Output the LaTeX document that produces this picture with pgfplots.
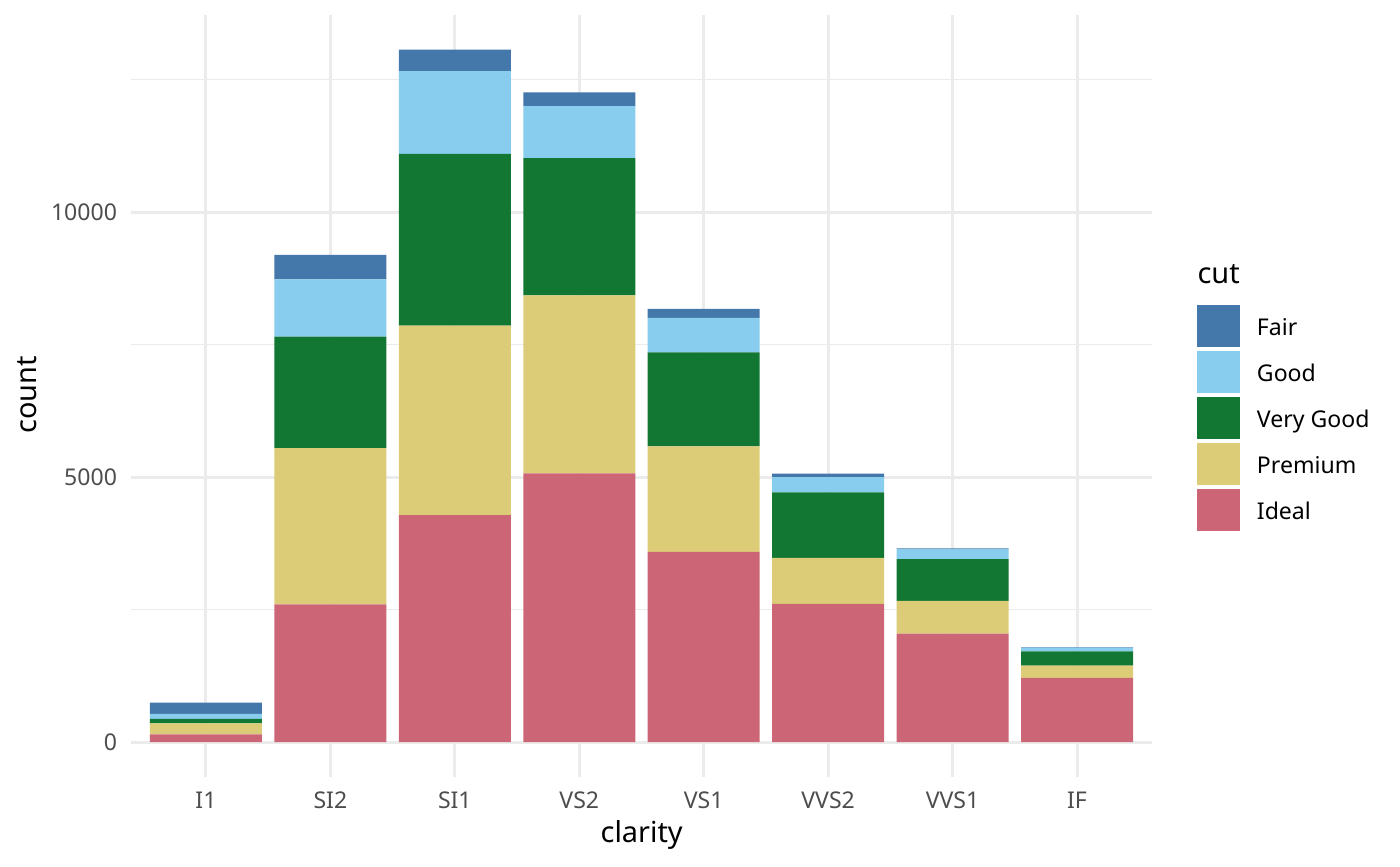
\documentclass[border=0pt]{standalone}
\usepackage{pgfplots}
\pgfplotsset{compat=1.18}
\usepackage{fontspec}
\setmainfont{Noto Sans}
\definecolor{cFair}{HTML}{4477AA}
\definecolor{cGood}{HTML}{88CCEE}
\definecolor{cVG}{HTML}{117733}
\definecolor{cPrem}{HTML}{DDCC77}
\definecolor{cIdeal}{HTML}{CC6677}
\definecolor{grid92}{HTML}{EBEBEB}
\definecolor{grey30}{HTML}{4D4D4D}
\begin{document}
\begin{tikzpicture}
\useasboundingbox (0,0) rectangle (504pt,311.76pt);
\begin{axis}[
  at={(47.27pt,32.18pt)}, anchor=south west,
  scale only axis, width=367.34pt, height=274.18pt,
  xmin=0.4, xmax=8.6, ymin=-653.25, ymax=13718.25,
  ybar stacked, bar width=0.9,
  axis line style={draw=none},
  major tick length=0pt, minor tick length=0pt,
  xtick={1,2,3,4,5,6,7,8},
  xticklabels={I1,SI2,SI1,VS2,VS1,VVS2,VVS1,IF},
  ytick={0,5000,10000},
  minor ytick={2500,7500,12500},
  grid=both,
  major grid style={draw=grid92, line width=1.08pt},
  minor grid style={draw=grid92, line width=0.54pt},
  scaled y ticks=false,
  /pgf/number format/.cd, 1000 sep={}, assume math mode=true,
  /pgfplots/.cd,
  tick label style={font=\fontsize{8.3pt}{10pt}\selectfont, color=grey30, inner sep=0pt},
  xticklabel style={anchor=north, yshift=-5.2pt},
  yticklabel style={anchor=east, xshift=-4.97pt},
  reverse legend,
  legend cell align=left,
  legend style={at={(1.0444,0.6192)}, anchor=north west, draw=none, fill=none,
    inner sep=0pt, outer sep=0pt, row sep=1.44pt, column sep=6.12pt,
    font=\fontsize{8.3pt}{10pt}\selectfont,
    nodes={inner sep=0pt, outer sep=0pt}},
  legend image code/.code={\fill[#1, draw=none] (0pt,-6.4pt) rectangle (15.48pt,8.72pt);},
]
\addplot[fill=cIdeal, draw=none] coordinates {(1,146) (2,2598) (3,4282) (4,5071) (5,3589) (6,2606) (7,2047) (8,1212)};
\addlegendentry{Ideal}
\addplot[fill=cPrem, draw=none] coordinates {(1,205) (2,2949) (3,3575) (4,3357) (5,1989) (6,870) (7,616) (8,230)};
\addlegendentry{Premium}
\addplot[fill=cVG, draw=none] coordinates {(1,84) (2,2100) (3,3240) (4,2591) (5,1775) (6,1235) (7,789) (8,268)};
\addlegendentry{Very Good}
\addplot[fill=cGood, draw=none] coordinates {(1,96) (2,1081) (3,1560) (4,978) (5,648) (6,286) (7,186) (8,71)};
\addlegendentry{Good}
\addplot[fill=cFair, draw=none] coordinates {(1,210) (2,466) (3,408) (4,261) (5,170) (6,69) (7,17) (8,9)};
\addlegendentry{Fair}
\end{axis}
\node[anchor=base, inner sep=0pt, font=\fontsize{10.4pt}{12pt}\selectfont] at (231.0pt,8.39pt) {clarity};
\node[anchor=base, rotate=90, inner sep=0pt, font=\fontsize{10.4pt}{12pt}\selectfont] at (13.32pt,169.56pt) {count};
\node[anchor=base west, inner sep=0pt, font=\fontsize{10.4pt}{12pt}\selectfont] at (430.92pt,209.88pt) {cut};
\end{tikzpicture}
\end{document}
